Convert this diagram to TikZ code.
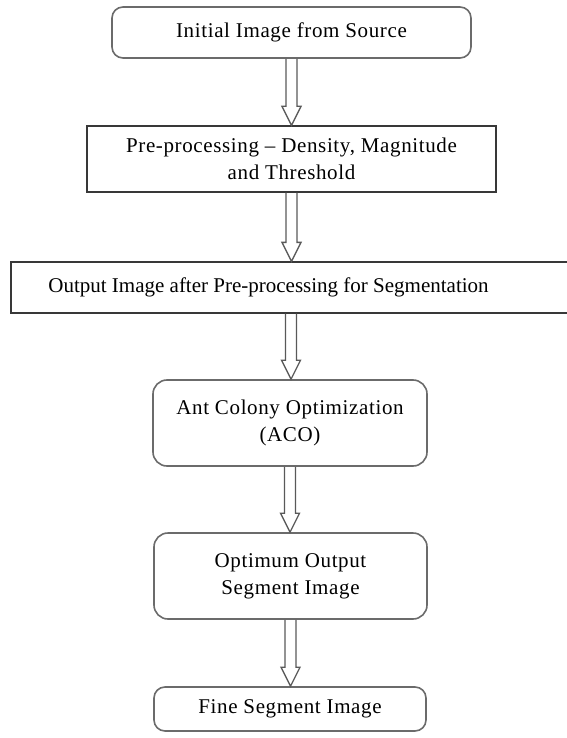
\documentclass[tikz,border=0pt]{standalone}
\usepackage{fontspec}
\setmainfont{Liberation Serif}[LetterSpace=3]
\newfontfamily\plainserif{Liberation Serif}
\usetikzlibrary{calc}
\tikzset{
  rbox/.style={draw=black!58, line width=1.6pt, rounded corners=11pt, fill=white, align=center,
    inner sep=0pt, font=\fontsize{21}{27}\selectfont},
  sbox/.style={draw=black!78, line width=1.3pt, fill=white, align=center,
    inner sep=0pt, font=\fontsize{21}{27}\selectfont},
  hollow/.style={draw=black!65, line width=1.3pt, line join=miter,
    to path={let \p1=(\tikztostart), \p2=(\tikztotarget) in
      ({\x1-5.5pt},\y1) -- ({\x1-5.5pt},{\y2+19pt}) -- ({\x1-9.5pt},{\y2+19pt}) -- (\x1,\y2)
      -- ({\x1+9.5pt},{\y2+19pt}) -- ({\x1+5.5pt},{\y2+19pt}) -- ({\x1+5.5pt},\y1)}}
}
\begin{document}
\begin{tikzpicture}[x=1pt,y=-1pt]
\useasboundingbox (0,0) rectangle (566,738);
\node[rbox, minimum width=359pt, minimum height=51pt] (n1) at (291.5,32.5) {Initial Image from Source};
\node[sbox, minimum width=409pt, minimum height=66pt] (n2) at (291.5,159) {Pre-processing -- Density, Magnitude\\and Threshold};
\node[sbox, minimum width=560pt, minimum height=51pt] (n3) at (291,287.5) {\plainserif\hspace*{-45pt}Output Image after Pre-processing for Segmentation};
\node[rbox, rounded corners=14pt, minimum width=274pt, minimum height=86pt] (n4) at (290,423) {Ant Colony Optimization\\(ACO)};
\node[rbox, rounded corners=14pt, minimum width=273pt, minimum height=86pt] (n5) at (290.5,576) {Optimum Output\\Segment Image};
\node[rbox, rounded corners=11pt, minimum width=272pt, minimum height=44pt] (n6) at (290,709) {Fine Segment Image};
\draw[hollow] (n1.south) to (n2.north);
\draw[hollow] (n2.south) to (n3.north);
\draw[hollow] (n3.south) to (n4.north);
\draw[hollow] (n4.south) to (n5.north);
\draw[hollow] (n5.south) to (n6.north);
\end{tikzpicture}
\end{document}
